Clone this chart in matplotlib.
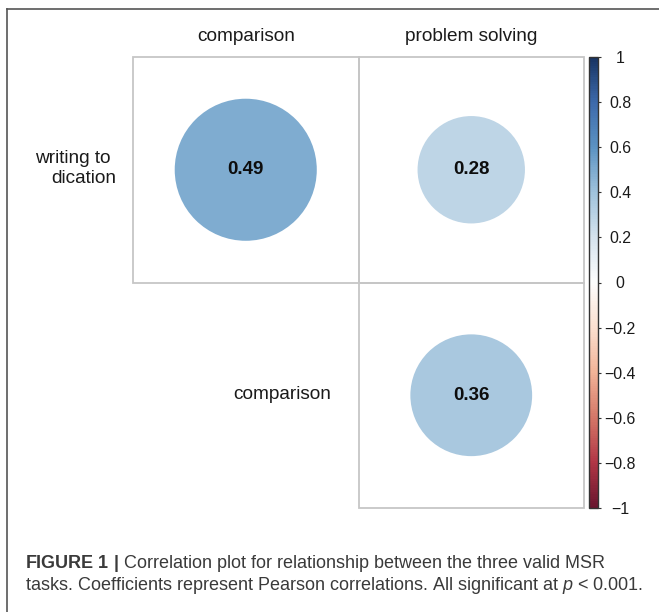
import numpy as np
import matplotlib
matplotlib.use("Agg")
import matplotlib.pyplot as plt
import matplotlib.colors as mcolors
import matplotlib.transforms as mtransforms
from matplotlib.patches import Circle, Rectangle

# ---- data -------------------------------------------------------------
col_labels = ["comparison", "problem solving"]
row_labels = ["writing to \ndication", "comparison"]
# upper-triangle correlation cells: (row index, column index, r)
cell_rows = [0, 0, 1]
cell_cols = [0, 1, 1]
cell_r = [0.49, 0.28, 0.36]
cbar_ticks = [-1, -0.8, -0.6, -0.4, -0.2, 0, 0.2, 0.4, 0.6, 0.8, 1]
cbar_ticklabels = ["\u22121", "\u22120.8", "\u22120.6", "\u22120.4", "\u22120.2",
                   "0", "0.2", "0.4", "0.6", "0.8", "1"]
caption_1 = r"$\mathbf{FIGURE\ 1\ |}$ Correlation plot for relationship between the three valid MSR"
caption_2 = r"tasks. Coefficients represent Pearson correlations. All significant at $\mathit{p}$ < 0.001."

# ---- style ------------------------------------------------------------
plt.rcParams["font.family"] = ["Liberation Sans", "DejaVu Sans"]
plt.rcParams["mathtext.fontset"] = "custom"
plt.rcParams["mathtext.rm"] = "Liberation Sans"
plt.rcParams["mathtext.it"] = "Liberation Sans:italic"
plt.rcParams["mathtext.bf"] = "Liberation Sans:bold"

# diverging red-blue palette, slightly muted
anchors = ["#67001F", "#B2182B", "#D6604D", "#F4A582", "#FDDBC7", "#FFFFFF",
           "#D1E5F0", "#92C5DE", "#4393C3", "#2166AC", "#053061"]
rgb = np.array([mcolors.to_rgb(c) for c in anchors])
hsv = mcolors.rgb_to_hsv(rgb)
cool = (hsv[:, 0] > 0.4) & (hsv[:, 0] < 0.8)
hsv[cool, 0] += 0.015
hsv[:, 1] *= 0.80
hsv[:, 2] = np.clip(hsv[:, 2] * 0.97 + 0.02, 0, 1)
cmap = mcolors.LinearSegmentedColormap.from_list("corr", mcolors.hsv_to_rgb(hsv), N=200)
norm = mcolors.Normalize(vmin=-1, vmax=1)

W, H = 659, 612
fig = plt.figure(figsize=(W / 100, H / 100), dpi=100)
fig.patch.set_facecolor("white")


def fx(x):
    return x / W


def fy(y):
    return 1 - y / H


# grid axes: two columns x two rows of square cells
gl, gr, gt, gb = 133, 584, 57, 508
ax = fig.add_axes([fx(gl), fy(gb), (gr - gl) / W, (gb - gt) / H])
ax.set_xlim(0, 2)
ax.set_ylim(2, 0)
ax.set_aspect("equal")
ax.axis("off")

grid_col = "#c6c6c6"
for r, c, val in zip(cell_rows, cell_cols, cell_r):
    ax.add_patch(Rectangle((c, r), 1, 1, facecolor="none", edgecolor=grid_col,
                           lw=1.3, zorder=1, clip_on=False))
    rad = 0.45 * np.sqrt(abs(val))
    ax.add_patch(Circle((c + 0.5, r + 0.5), rad, facecolor=cmap(norm(val)),
                        edgecolor="none", zorder=2))
    ax.text(c + 0.5, r + 0.5, f"{val:.2f}", ha="center", va="center",
            fontsize=13.5, fontweight="bold", color="#0d0d0d", zorder=3)

# column labels above the grid
col_tr = mtransforms.blended_transform_factory(ax.transData, fig.transFigure)
for j, lab in enumerate(col_labels):
    ax.text(j + 0.5, fy(41), lab, transform=col_tr, ha="center", va="baseline",
            fontsize=13.7, color="#1a1a1a")

# row labels to the left of each row's first cell
row_tr = mtransforms.blended_transform_factory(fig.transFigure, ax.transData)
row_label_right = [116, 331]
for i, lab in enumerate(row_labels):
    ax.text(fx(row_label_right[i]), i + 0.5 - 0.005, lab, transform=row_tr,
            ha="right", va="center", multialignment="right",
            fontsize=13.7, color="#1a1a1a", linespacing=1.2)

# colour bar
cax = fig.add_axes([fx(589), fy(508), 9 / W, (508 - 57) / H])
sm = matplotlib.cm.ScalarMappable(norm=norm, cmap=cmap)
cb = fig.colorbar(sm, cax=cax, ticks=cbar_ticks)
cb.ax.set_yticklabels(cbar_ticklabels)
cb.outline.set_edgecolor("#333333")
cb.outline.set_linewidth(1.0)
cax.tick_params(axis="y", direction="out", length=2.2, width=0.8, color="#333333",
                pad=13.7, labelsize=11.4, labelcolor="#1a1a1a")
for t in cax.get_yticklabels():
    t.set_ha("center")

# figure frame (top and left rules)
fig.add_artist(plt.Line2D([fx(7), fx(W)], [fy(9), fy(9)], color="#555555", lw=1.2))
fig.add_artist(plt.Line2D([fx(7), fx(7)], [fy(9), fy(H)], color="#555555", lw=1.2))

# caption
fig.text(fx(25), fy(568), caption_1, ha="left", va="baseline", fontsize=13,
         color="#3a3a3a")
fig.text(fx(25), fy(590), caption_2, ha="left", va="baseline", fontsize=13,
         color="#3a3a3a")

fig.savefig("out.png", dpi=100, facecolor="white")
